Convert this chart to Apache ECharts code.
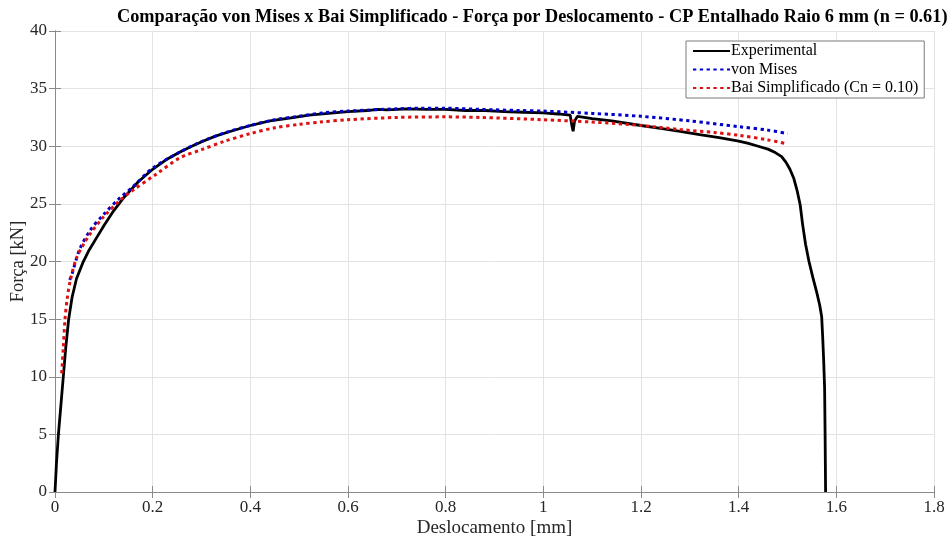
<!DOCTYPE html>
<html>
<head>
<meta charset="utf-8">
<script src="https://cdn.jsdelivr.net/npm/echarts@6/dist/echarts.min.js"></script>
<style>
  html, body { margin: 0; padding: 0; background: #fff; }
  #chart { width: 952px; height: 542px; }
</style>
</head>
<body>
<div id="chart"></div>
<script>
// Força x deslocamento, CP entalhado raio 6 mm
const titleText = 'Comparação von Mises x Bai Simplificado - Força por Deslocamento - CP Entalhado Raio 6 mm (n = 0.61)';
const seriesNames = ['Experimental', 'von Mises', 'Bai Simplificado (Cn = 0.10)'];

const xTicks = [0, 0.2, 0.4, 0.6, 0.8, 1, 1.2, 1.4, 1.6, 1.8];
const yTicks = [0, 5, 10, 15, 20, 25, 30, 35, 40];

// [deslocamento mm, força kN]
const experimental = [
  [0, 0], [0.003, 2.5], [0.007, 5], [0.012, 7.5], [0.017, 10], [0.022, 12.5],
  [0.028, 15], [0.035, 16.9], [0.044, 18.5], [0.057, 19.9], [0.07, 21.0],
  [0.085, 22.05], [0.1, 23.1], [0.12, 24.4], [0.14, 25.5], [0.17, 26.9],
  [0.2, 28.0], [0.23, 28.9], [0.256, 29.5], [0.28, 30.0], [0.304, 30.45],
  [0.33, 30.9], [0.36, 31.3], [0.4, 31.8], [0.44, 32.2], [0.48, 32.45],
  [0.52, 32.7], [0.56, 32.85], [0.6, 33.0], [0.64, 33.1], [0.66, 33.2],
  [0.68, 33.15], [0.72, 33.25], [0.76, 33.2], [0.8, 33.2], [0.84, 33.1],
  [0.88, 33.1], [0.92, 33.0], [0.96, 32.95], [1.0, 32.9], [1.03, 32.8],
  [1.055, 32.7], [1.058, 31.9], [1.061, 31.3], [1.064, 32.2], [1.07, 32.6],
  [1.1, 32.4], [1.14, 32.2], [1.2, 31.8], [1.24, 31.55], [1.28, 31.3],
  [1.32, 31.0], [1.36, 30.75], [1.38, 30.6], [1.4, 30.45], [1.42, 30.25],
  [1.44, 30.0], [1.46, 29.75], [1.475, 29.45], [1.488, 29.1], [1.497, 28.6],
  [1.505, 28.0], [1.513, 27.2], [1.52, 26.1], [1.526, 24.9], [1.531, 23.2],
  [1.537, 21.5], [1.544, 20.0], [1.552, 18.6], [1.56, 17.3], [1.566, 16.2],
  [1.57, 15.2], [1.572, 13.5], [1.574, 11.5], [1.576, 9], [1.577, 5], [1.578, 0]
];

const vonMises = [
  [0.03, 18.4], [0.034, 18.8], [0.05, 21.0], [0.072, 22.7], [0.1, 24.1],
  [0.13, 25.4], [0.16, 26.5], [0.2, 28.1], [0.256, 29.5], [0.3, 30.4],
  [0.35, 31.2], [0.4, 31.8], [0.45, 32.3], [0.5, 32.6], [0.55, 32.9],
  [0.6, 33.05], [0.7, 33.25], [0.75, 33.3], [0.8, 33.3], [0.87, 33.2],
  [0.95, 33.1], [1.0, 33.05], [1.1, 32.85], [1.2, 32.6], [1.3, 32.2],
  [1.4, 31.7], [1.46, 31.4], [1.5, 31.1]
];

const baiSimplificado = [
  [0.0137, 10.3], [0.017, 12.5], [0.0205, 15.0], [0.025, 16.8], [0.031, 18.3],
  [0.044, 20.3], [0.06, 21.6], [0.072, 22.4], [0.1, 23.9], [0.133, 25.3],
  [0.16, 26.2], [0.208, 27.6], [0.256, 29.0], [0.3, 29.7], [0.345, 30.4],
  [0.4, 31.1], [0.45, 31.6], [0.5, 31.9], [0.543, 32.1], [0.6, 32.3],
  [0.7, 32.5], [0.8, 32.55], [0.87, 32.5], [1.0, 32.3], [1.1, 32.1],
  [1.2, 31.8], [1.28, 31.45], [1.35, 31.2], [1.4, 30.95], [1.46, 30.55],
  [1.5, 30.2]
];

const serif = '"Liberation Serif", "Times New Roman", serif';
const axisGray = '#8a8a8a';
const textGray = '#262626';

const xMin = xTicks[0], xMax = xTicks[xTicks.length - 1], xStep = xTicks[1] - xTicks[0];
const yMin = yTicks[0], yMax = yTicks[yTicks.length - 1], yStep = yTicks[1] - yTicks[0];

function fmtTick(v) {
  return String(parseFloat(v.toFixed(2)));
}

const baseX = {
  type: 'value', min: xMin, max: xMax, interval: xStep,
  axisLine: { show: true, lineStyle: { color: axisGray, width: 1 } },
  axisTick: { show: true, inside: true, length: 6, lineStyle: { color: axisGray } },
  splitLine: { show: false }
};
const baseY = {
  type: 'value', min: yMin, max: yMax, interval: yStep,
  axisLine: { show: true, lineStyle: { color: axisGray, width: 1 } },
  axisTick: { show: true, inside: true, length: 6, lineStyle: { color: axisGray } },
  splitLine: { show: false }
};

const chart = echarts.init(document.getElementById('chart'), null, { renderer: 'canvas' });

chart.setOption({
  backgroundColor: '#ffffff',
  animation: false,
  title: {
    text: titleText,
    left: 112,
    top: 3,
    textStyle: { fontFamily: serif, fontWeight: 'bold', fontSize: 18.3, color: '#000' }
  },
  grid: {
    left: 55, right: 18, top: 31, bottom: 50,
    containLabel: false,
    outerBoundsMode: 'none'
  },
  legend: {
    orient: 'vertical',
    left: 686,
    top: 41,
    padding: [2, 6, 2, 6],
    itemGap: 2.5,
    itemWidth: 37,
    itemHeight: 14,
    backgroundColor: '#ffffff',
    borderColor: '#7a7a7a',
    borderWidth: 1,
    itemStyle: { opacity: 0 },
    textStyle: { fontFamily: serif, fontSize: 16, color: '#000', padding: [0, 0, 0, -4] },
    data: seriesNames.map(n => ({ name: n }))
  },
  xAxis: [
    Object.assign({}, baseX, {
      position: 'bottom',
      name: 'Deslocamento [mm]',
      nameLocation: 'middle',
      nameGap: 27,
      nameMoveOverlap: false,
      nameTextStyle: { fontFamily: serif, fontSize: 19, color: textGray },
      axisLabel: { show: true, fontFamily: serif, fontSize: 17, color: textGray, margin: 7, formatter: fmtTick },
      splitLine: { show: true, lineStyle: { color: '#e3e3e3', width: 1 } }
    }),
    Object.assign({}, baseX, { position: 'top', axisLabel: { show: false } })
  ],
  yAxis: [
    Object.assign({}, baseY, {
      position: 'left',
      name: 'Força [kN]',
      nameLocation: 'middle',
      nameGap: 27,
      nameMoveOverlap: false,
      nameTextStyle: { fontFamily: serif, fontSize: 18.5, color: textGray },
      axisLabel: { show: true, fontFamily: serif, fontSize: 17, color: textGray, margin: 8, formatter: fmtTick },
      splitLine: { show: true, lineStyle: { color: '#e3e3e3', width: 1 } }
    }),
    Object.assign({}, baseY, { position: 'right', axisLabel: { show: false } })
  ],
  series: [
    {
      name: seriesNames[0], type: 'line', data: experimental,
      xAxisIndex: 0, yAxisIndex: 0,
      showSymbol: false, symbol: 'none',
      lineStyle: { color: '#000000', width: 2.8, type: 'solid' },
      itemStyle: { color: '#000000' },
      z: 2
    },
    {
      name: seriesNames[1], type: 'line', data: vonMises,
      xAxisIndex: 0, yAxisIndex: 0,
      showSymbol: false, symbol: 'none', smooth: 0.3,
      lineStyle: { color: '#0000cc', width: 3, type: [3.3, 3.5] },
      itemStyle: { color: '#0000cc' },
      z: 3
    },
    {
      name: seriesNames[2], type: 'line', data: baiSimplificado,
      xAxisIndex: 0, yAxisIndex: 0,
      showSymbol: false, symbol: 'none', smooth: 0.3,
      lineStyle: { color: '#dd1111', width: 3, type: [3.3, 3.5] },
      itemStyle: { color: '#dd1111' },
      z: 4
    }
  ]
});
</script>
</body>
</html>
